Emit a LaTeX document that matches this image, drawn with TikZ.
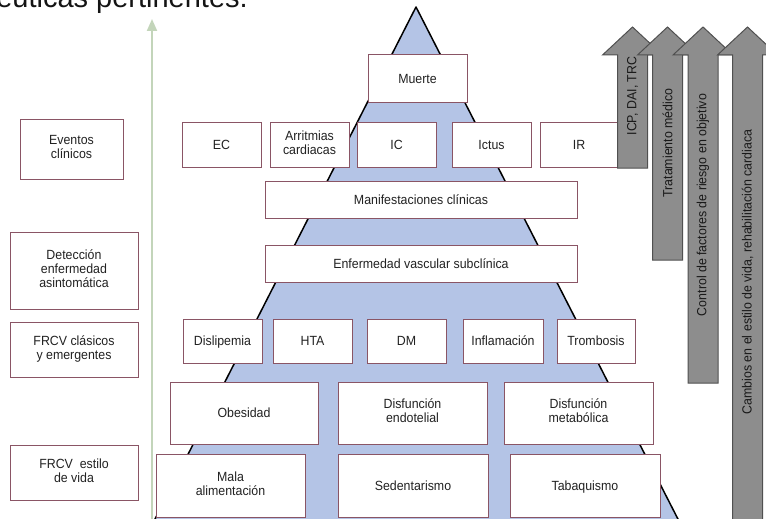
\documentclass[tikz,border=0pt]{standalone}
\usepackage{fontspec}
\setmainfont{Liberation Sans}[FakeStretch=0.93]
\newfontfamily\headfont{Liberation Sans}
\usetikzlibrary{arrows.meta}
\definecolor{boxedge}{HTML}{8A5565}
\definecolor{pyrfill}{HTML}{B4C4E6}
\definecolor{txt}{HTML}{222222}
\definecolor{arrowfill}{HTML}{8D8D8D}
\definecolor{arrowedge}{HTML}{505050}
\definecolor{axisgreen}{HTML}{C3D5BA}
% struts that centre the capitals of a label in its box, descenders included
\newcommand\capsup{\rule{0pt}{13.5pt}}
\newcommand\capsdown{\rule[-4pt]{0pt}{4pt}}
\tikzset{
  lbl/.style={font=\fontsize{13.3}{14}\selectfont, text=txt, align=center, inner sep=0pt},
  pbox/.style={lbl, draw=boxedge, fill=white, line width=1pt,
               execute at begin node=\capsup, execute at end node=\capsdown},
  arrowshape/.style={fill=arrowfill, draw=arrowedge, line width=1pt},
  arrowtext/.style={lbl, text=black!90, rotate=90}
}
% vertical block arrow: centre x, bottom y, name, text, text centre y
\newcommand\grayarrow[5]{%
  \draw[arrowshape] (#1-15,#2) -- (#1-15,55) -- (#1-30,55) -- (#1,27)
    -- (#1+30,55) -- (#1+15,55) -- (#1+15,#2) -- cycle;
  \node[arrowtext] (#3) at (#1,#5) {#4};
}
\begin{document}
\begin{tikzpicture}[x=1pt,y=-1pt]
\useasboundingbox (0,0) rectangle (766,519);
\clip (0,0) rectangle (766,519);

% heading line of the slide, partly above the frame
\node[anchor=base east, inner sep=0pt, text=black!92,
      font=\headfont\fontsize{29}{30}\selectfont] (head) at (248,8)
      {terapéuticas pertinentes.};

% time axis
\coordinate (axisbot) at (152,525);
\coordinate (axistop) at (152,19);
\draw[axisgreen, line width=2pt, -{Triangle[width=10pt,length=12pt]}]
  (axisbot) -- (axistop);

% pyramid
\coordinate (apex) at (416,7);
\coordinate (bl) at (152,525);
\coordinate (br) at (681,525);
\fill[pyrfill] (apex) -- (bl) -- (br) -- cycle;
\draw[black, line width=1.5pt, line join=round] (bl) -- (apex) -- (br);

% stage labels
\node[pbox, minimum width=103pt, minimum height=60pt] (ev) at (71.5,149) {Eventos\\clínicos};
\node[pbox, minimum width=128pt, minimum height=77pt] (det) at (74,270.5) {Detección\\enfermedad\\asintomática};
\node[pbox, minimum width=128pt, minimum height=55pt] (frc) at (74,349.5) {FRCV clásicos\\y emergentes};
\node[pbox, minimum width=128pt, minimum height=55pt] (fre) at (74,472.5) {FRCV \ estilo\\de vida};

% pyramid levels
\node[pbox, minimum width=99pt, minimum height=47pt] (muerte) at (417.5,78.5) {Muerte};

\node[pbox, minimum width=79pt, minimum height=45pt] (ec) at (221.5,144.5) {EC};
\node[pbox, minimum width=79pt, minimum height=45pt] (arr) at (309.5,144.5) {Arritmias\\cardiacas};
\node[pbox, minimum width=79pt, minimum height=45pt] (ic) at (396.5,144.5) {IC};
\node[pbox, minimum width=79pt, minimum height=45pt] (ictus) at (491.5,144.5) {Ictus};
\node[pbox, minimum width=78pt, minimum height=45pt] (ir) at (579,144.5) {IR};

\node[pbox, minimum width=312pt, minimum height=37pt] (manif) at (421,199.5) {Manifestaciones clínicas};
\node[pbox, minimum width=312pt, minimum height=37pt] (evs) at (421,263.5) {Enfermedad vascular subclínica};

\node[pbox, minimum width=79pt, minimum height=44pt] (disl) at (222.5,341) {Dislipemia};
\node[pbox, minimum width=79pt, minimum height=44pt] (hta) at (312.5,341) {HTA};
\node[pbox, minimum width=79pt, minimum height=44pt] (dm) at (406.5,341) {DM};
\node[pbox, minimum width=80pt, minimum height=44pt] (infl) at (503,341) {Inflamación};
\node[pbox, minimum width=78pt, minimum height=44pt] (tromb) at (596,341) {Trombosis};

\node[pbox, minimum width=148pt, minimum height=62pt] (obes) at (244,413) {Obesidad};
\node[pbox, minimum width=149pt, minimum height=62pt] (dendo) at (412.5,413) {Disfunción\\endotelial};
\node[pbox, minimum width=149pt, minimum height=62pt] (dmeta) at (578.5,413) {Disfunción\\metabólica};

\node[pbox, minimum width=149pt, minimum height=63pt] (mala) at (230.5,485.5) {Mala\\alimentación};
\node[pbox, minimum width=150pt, minimum height=63pt] (sed) at (413,485.5) {Sedentarismo};
\node[pbox, minimum width=150pt, minimum height=63pt] (taba) at (585,485.5) {Tabaquismo};

% interventions
\grayarrow{632.5}{168}{icp}{ICP, DAI, TRC}{96}
\grayarrow{667.5}{260}{trat}{Tratamiento médico}{143}
\grayarrow{703}{383}{ctrl}{Control de factores de riesgo en objetivo}{205}
\grayarrow{747.5}{530}{camb}{Cambios en el estilo de vida, rehabilitación cardiaca}{272}
\end{tikzpicture}
\end{document}
